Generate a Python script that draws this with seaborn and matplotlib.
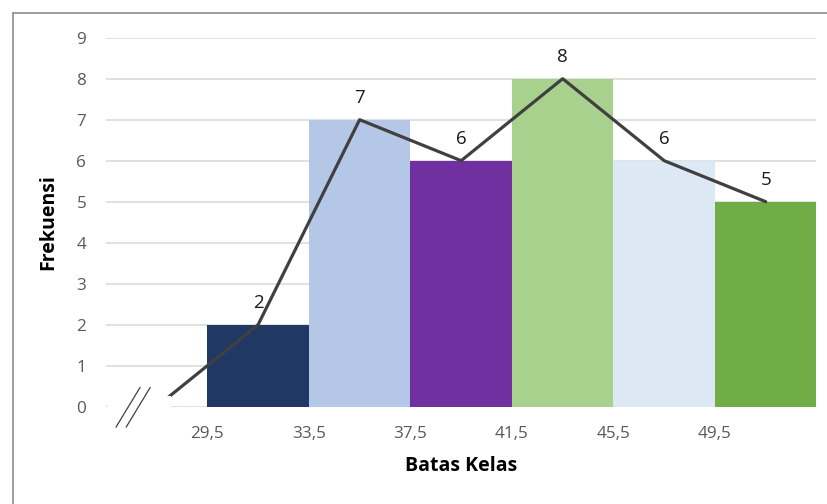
import matplotlib
matplotlib.use("Agg")
import matplotlib.pyplot as plt
from matplotlib.lines import Line2D
from matplotlib.patches import Rectangle
import seaborn as sns
import pandas as pd

# ---- data ----
boundaries = [29.5, 33.5, 37.5, 41.5, 45.5, 49.5]
tick_labels = ["29,5", "33,5", "37,5", "41,5", "45,5", "49,5"]
midpoints = [31.5, 35.5, 39.5, 43.5, 47.5, 51.5]
frequencies = [2, 7, 6, 8, 6, 5]
bar_colors = ["#203864", "#b4c7e7", "#7030a0", "#a9d18e", "#dde8f5", "#70ad47"]
poly_x = [27.5] + midpoints
poly_y = [0] + frequencies

sns.set_theme(style="white")
plt.rcParams["font.family"] = ["Open Sans", "DejaVu Sans"]

fig = plt.figure(figsize=(8.28, 5.04), dpi=100)
L, R, T, B = 105.8, 816.5, 37.7, 406.7
ax = fig.add_axes([L / 828, 1 - B / 504, (R - L) / 828, (B - T) / 504])

df = pd.DataFrame({"mid": midpoints, "freq": frequencies,
                   "cls": [str(m) for m in midpoints]})
sns.barplot(data=df, x="mid", y="freq", hue="cls", palette=bar_colors,
            native_scale=True, width=1.0, legend=False, ax=ax,
            linewidth=0, saturation=1)

poly = pd.DataFrame({"x": poly_x, "y": poly_y})
sns.lineplot(data=poly, x="x", y="y", sort=False, color="#404040",
             linewidth=2.3, ax=ax, zorder=4)

for xm, f in zip(midpoints, frequencies):
    ax.annotate(str(f), (xm, f), xytext=(0, 12), textcoords="offset points",
                ha="center", va="baseline", fontsize=13.5, color="#1a1a1a")

ax.set_xlim(25.5, 53.5)
ax.set_ylim(0, 9)
ax.set_yticks(range(0, 10))
ax.set_xticks(boundaries)
ax.set_xticklabels(tick_labels)
ax.yaxis.grid(True, color="#d9d9d9", linewidth=1.1)
ax.set_axisbelow(True)
for s in ax.spines.values():
    s.set_visible(False)
ax.tick_params(axis="both", length=0, labelsize=12.3, labelcolor="#595959")
ax.tick_params(axis="y", pad=14)
ax.tick_params(axis="x", pad=14)

ax.set_xlabel("Batas Kelas", fontsize=14, fontweight="bold", color="#000000",
              labelpad=10)
ax.set_ylabel("Frekuensi", fontsize=14, fontweight="bold", color="#000000",
              labelpad=13)

# axis break mask and symbol
ax.add_patch(Rectangle((25.6, -1.0), 2.45, 1.27, facecolor="white",
                       edgecolor="none", zorder=5, clip_on=False,
                       transform=ax.transData))
for dx in (0, 0.4):
    ax.add_line(Line2D([25.9 + dx, 26.85 + dx], [-0.5, 0.47], color="#404040",
                       linewidth=0.9, zorder=6, clip_on=False))

# outer frame
fig.add_artist(Line2D([13 / 828, 13 / 828], [0, 1 - 12.7 / 504],
                      transform=fig.transFigure, color="#8c8c8c", linewidth=1.2))
fig.add_artist(Line2D([13 / 828, 1], [1 - 12.7 / 504, 1 - 12.7 / 504],
                      transform=fig.transFigure, color="#8c8c8c", linewidth=1.2))

fig.savefig("out.png", dpi=100, facecolor="white")
